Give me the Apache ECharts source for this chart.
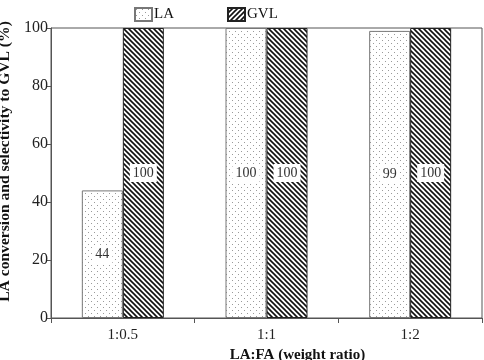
<!DOCTYPE html>
<html>
<head>
<meta charset="utf-8">
<script src="https://cdn.jsdelivr.net/npm/echarts@6/dist/echarts.min.js"></script>
<style>
  html, body { margin: 0; padding: 0; background: #fff; }
  #chart { width: 484px; height: 360px; }
</style>
</head>
<body>
<div id="chart"></div>
<script>
const categories = ["1:0.5", "1:1", "1:2"];
const laValues = [44, 100, 99];
const gvlValues = [100, 100, 100];

// dotted fill for LA
function dotPattern() {
  const c = document.createElement("canvas");
  c.width = 6;
  c.height = 6;
  const ctx = c.getContext("2d");
  ctx.fillStyle = "#fff";
  ctx.fillRect(0, 0, 6, 6);
  ctx.fillStyle = "#9a9a9a";
  ctx.fillRect(1, 1, 1, 1);
  ctx.fillRect(4, 4, 1, 1);
  return c;
}

// diagonal hatching, back-slash for the bars, slash for the legend key
function hatchPattern(forward) {
  const s = 5;
  const c = document.createElement("canvas");
  c.width = s;
  c.height = s;
  const ctx = c.getContext("2d");
  ctx.fillStyle = "#fff";
  ctx.fillRect(0, 0, s, s);
  if (forward) {
    ctx.translate(s, 0);
    ctx.scale(-1, 1);
  }
  ctx.strokeStyle = "#111";
  ctx.lineWidth = 1.6;
  ctx.beginPath();
  ctx.moveTo(-1, -1);
  ctx.lineTo(s + 1, s + 1);
  ctx.moveTo(-1, s - 1);
  ctx.lineTo(1, s + 1);
  ctx.moveTo(s - 1, -1);
  ctx.lineTo(s + 1, 1);
  ctx.stroke();
  return c;
}

const chart = echarts.init(document.getElementById("chart"));
const serif = "Liberation Serif";

const labelStyle = {
  show: true,
  position: "inside",
  fontFamily: serif,
  fontSize: 14,
  color: "#333",
  backgroundColor: "#fff",
  padding: [2, 3],
};

const option = {
  animation: false,
  grid: {
    left: 51,
    right: 2,
    top: 28,
    bottom: 42,
    outerBoundsMode: "none",
    containLabel: false,
    show: true,
    borderColor: "#555",
    borderWidth: 1,
  },
  legend: {
    top: 2,
    left: 129,
    itemGap: 53,
    itemWidth: 17,
    itemHeight: 13,
    icon: "rect",
    textStyle: { fontFamily: serif, fontSize: 15, color: "#111", padding: [0, 0, 0, -3] },
    data: [
      "LA",
      {
        name: "GVL",
        itemStyle: { color: { image: hatchPattern(true), repeat: "repeat" } },
      },
    ],
  },
  xAxis: {
    type: "category",
    data: categories,
    name: "LA:FA (weight ratio)",
    nameLocation: "middle",
    nameGap: 26,
    nameTextStyle: {
      fontFamily: serif,
      fontSize: 15,
      fontWeight: "bold",
      color: "#111",
      padding: [0, 0, 0, 62],
    },
    axisLine: { lineStyle: { color: "#555" } },
    axisTick: { show: true, length: 5, lineStyle: { color: "#555" } },
    axisLabel: { fontFamily: serif, fontSize: 15, color: "#222", margin: 10 },
  },
  yAxis: {
    type: "value",
    min: 0,
    max: 100,
    interval: 20,
    name: "LA conversion and selectivity to GVL (%)",
    nameLocation: "middle",
    nameGap: 37,
    nameTextStyle: {
      fontFamily: serif,
      fontSize: 15.6,
      fontWeight: "bold",
      color: "#111",
      padding: [0, 0, 0, 23],
    },
    axisLine: { show: true, lineStyle: { color: "#555" } },
    axisTick: { show: true, length: 5, lineStyle: { color: "#555" } },
    axisLabel: { fontFamily: serif, fontSize: 16, color: "#222", margin: 3 },
    splitLine: { show: false },
  },
  series: [
    {
      name: "LA",
      type: "bar",
      data: laValues,
      barWidth: 41,
      barGap: "0%",
      itemStyle: {
        color: { image: dotPattern(), repeat: "repeat" },
        borderColor: "#777",
        borderWidth: 1,
      },
      label: labelStyle,
    },
    {
      name: "GVL",
      type: "bar",
      data: gvlValues,
      barWidth: 41,
      barGap: "0%",
      itemStyle: {
        color: { image: hatchPattern(false), repeat: "repeat" },
        borderColor: "#222",
        borderWidth: 1,
      },
      label: labelStyle,
    },
  ],
};

chart.setOption(option);
</script>
</body>
</html>
